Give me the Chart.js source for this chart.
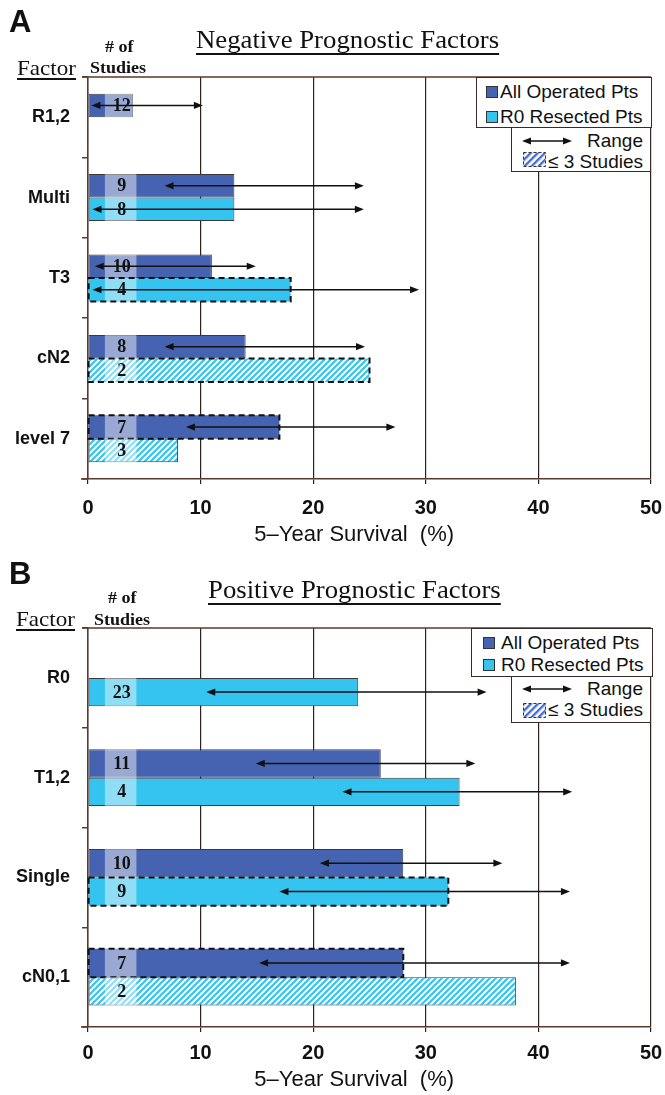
<!DOCTYPE html>
<html>
<head>
<meta charset="utf-8">
<script src="https://cdn.jsdelivr.net/npm/chart.js@4.4.1/dist/chart.umd.min.js"></script>
<style>
html,body{margin:0;padding:0;background:#fff;}
body{width:665px;height:1095px;position:relative;overflow:hidden;font-family:"Liberation Sans",Arial,sans-serif;color:#111;}
canvas{position:absolute;left:0;}
.t{position:absolute;white-space:nowrap;line-height:1;transform-origin:0 0;z-index:3;}
.serif{font-family:"Liberation Serif","Times New Roman",serif;}
.panelLetter{font-family:"Liberation Sans",Arial,sans-serif;font-weight:bold;font-size:31px;}
.title{font-size:25px;text-decoration:underline;text-decoration-thickness:1.5px;text-underline-offset:5px;transform:scaleX(1.07);}
.factor{font-size:22px;text-decoration:underline;text-decoration-thickness:1.5px;text-underline-offset:3px;transform:scaleX(1.05);}
.studies{font-size:17px;font-weight:bold;transform:scaleX(1.06);}
.lg{position:absolute;background:#fff;border:1.5px solid #3a2a25;box-sizing:border-box;z-index:3;}
.row{position:absolute;height:20px;line-height:20px;font-size:19px;white-space:nowrap;}
.sw{position:absolute;width:12px;height:12px;box-sizing:border-box;border:1px solid #333;}
</style>
</head>
<body>
<canvas id="chartA" width="665" height="550" style="top:0"></canvas>
<canvas id="chartB" width="665" height="545" style="top:550px"></canvas>

<!-- Panel A headers -->
<div class="t panelLetter" style="left:9px;top:6px">A</div>
<div class="t serif title" style="left:196px;top:27px">Negative Prognostic Factors</div>
<div class="t serif factor" style="left:17px;top:57px">Factor</div>
<div class="t serif studies" style="left:105px;top:38px">#&nbsp;of</div>
<div class="t serif studies" style="left:90px;top:59px">Studies</div>

<!-- Panel A legend -->
<div class="lg" style="left:476px;top:77px;width:176px;height:51px">
  <div class="sw" style="left:9px;top:8px;background:#4563b1"></div>
  <div class="row" style="left:23px;top:4px">All Operated Pts</div>
  <div class="sw" style="left:9px;top:33px;background:#35c4ef"></div>
  <div class="row" style="left:23px;top:29px">R0 Resected Pts</div>
</div>
<div class="lg" style="left:511px;top:127px;width:140px;height:45px">
  <svg style="position:absolute;left:10px;top:7px" width="50" height="12"><line x1="4" y1="6" x2="46" y2="6" stroke="#111" stroke-width="1.5"/><polygon points="0,6 9,2.5 9,9.5" fill="#111"/><polygon points="50,6 41,2.5 41,9.5" fill="#111"/></svg>
  <div class="row" style="right:7px;top:3px">Range</div>
  <svg style="position:absolute;left:11px;top:24px" width="23" height="15"><defs><pattern id="hpA" patternUnits="userSpaceOnUse" width="5" height="5" patternTransform="rotate(45)"><rect width="5" height="5" fill="#fff"/><rect width="2.4" height="5" fill="#4a6fd0"/></pattern></defs><rect x="0.5" y="0.5" width="22" height="14" fill="url(#hpA)" stroke="#333" stroke-width="1" stroke-dasharray="3,2"/></svg>
  <div class="row" style="right:7px;top:24px">≤ 3 Studies</div>
</div>

<!-- Panel B headers -->
<div class="t panelLetter" style="left:9px;top:558px">B</div>
<div class="t serif title" style="left:208px;top:577px">Positive Prognostic Factors</div>
<div class="t serif factor" style="left:16px;top:608px">Factor</div>
<div class="t serif studies" style="left:108px;top:589px">#&nbsp;of</div>
<div class="t serif studies" style="left:94px;top:611px">Studies</div>

<!-- Panel B legend -->
<div class="lg" style="left:471px;top:628px;width:182px;height:49px">
  <div class="sw" style="left:11px;top:8px;background:#4563b1"></div>
  <div class="row" style="left:29px;top:4px">All Operated Pts</div>
  <div class="sw" style="left:11px;top:30px;background:#35c4ef"></div>
  <div class="row" style="left:29px;top:26px">R0 Resected Pts</div>
</div>
<div class="lg" style="left:511px;top:676px;width:140px;height:47px">
  <svg style="position:absolute;left:10px;top:6px" width="50" height="12"><line x1="4" y1="6" x2="46" y2="6" stroke="#111" stroke-width="1.5"/><polygon points="0,6 9,2.5 9,9.5" fill="#111"/><polygon points="50,6 41,2.5 41,9.5" fill="#111"/></svg>
  <div class="row" style="right:7px;top:2px">Range</div>
  <svg style="position:absolute;left:11px;top:26px" width="23" height="15"><defs><pattern id="hpB" patternUnits="userSpaceOnUse" width="5" height="5" patternTransform="rotate(45)"><rect width="5" height="5" fill="#fff"/><rect width="2.4" height="5" fill="#4a6fd0"/></pattern></defs><rect x="0.5" y="0.5" width="22" height="14" fill="url(#hpB)" stroke="#333" stroke-width="1" stroke-dasharray="3,2"/></svg>
  <div class="row" style="right:7px;top:23px">≤ 3 Studies</div>
</div>

<script>
// ---------- DATA ----------
const xTicks = [0, 10, 20, 30, 40, 50];

const categoriesA = ['R1,2', 'Multi', 'T3', 'cN2', 'level 7'];
const allOperatedA = [4, 13, 11, 14, 17];
const r0ResectedA = [null, 13, 18, 25, 8];
const studiesAllA = [12, 9, 10, 8, 7];
const studiesR0A = [null, 8, 4, 2, 3];
const rangeAllA = [[0.3, 10.2], [6.8, 24.5], [0.6, 14.9], [6.8, 24.6], [8.7, 27.3]];
const rangeR0A = [null, [0.4, 24.5], [0.4, 29.4], null, null];

const categoriesB = ['R0', 'T1,2', 'Single', 'cN0,1'];
const allOperatedB = [null, 26, 28, 28];
const r0ResectedB = [24, 33, 32, 38];
const studiesAllB = [null, 11, 10, 7];
const studiesR0B = [23, 4, 9, 2];
const rangeAllB = [null, [14.9, 34.4], [20.6, 36.8], [15.2, 42.8]];
const rangeR0B = [[10.5, 35.4], [22.6, 43.0], [17.0, 42.8], null];

// outline style flags (dashed outline in the original figure)
const dashedAllA = [false, false, false, false, true];
const dashedR0A = [false, false, true, true, false];
const dashedAllB = [false, false, false, true];
const dashedR0B = [false, false, true, false];

// ---------- STYLE ----------
const COL_ALL = '#4563b1';
const COL_R0 = '#35c4ef';
const GRID = '#2e211c';
const AXIS = '#5a3a30';

function makeHatch(color) {
  const s = 6;
  const c = document.createElement('canvas');
  c.width = s; c.height = s;
  const g = c.getContext('2d');
  g.fillStyle = '#fff'; g.fillRect(0, 0, s, s);
  g.strokeStyle = color; g.lineWidth = 2.2;
  g.beginPath();
  g.moveTo(-1, s + 1); g.lineTo(s + 1, -1);
  g.moveTo(-1, 1); g.lineTo(1, -1);
  g.moveTo(s - 1, s + 1); g.lineTo(s + 1, s - 1);
  g.stroke();
  return g.createPattern(c, 'repeat');
}
const hatch = makeHatch(COL_R0);

function drawArrow(ctx, x1, x2, y) {
  const L = 9, W = 3.6;
  ctx.save();
  ctx.strokeStyle = '#111'; ctx.fillStyle = '#111'; ctx.lineWidth = 1.5;
  ctx.beginPath(); ctx.moveTo(x1 + 4, y); ctx.lineTo(x2 - 4, y); ctx.stroke();
  ctx.beginPath(); ctx.moveTo(x1, y); ctx.lineTo(x1 + L, y - W); ctx.lineTo(x1 + L, y + W); ctx.closePath(); ctx.fill();
  ctx.beginPath(); ctx.moveTo(x2, y); ctx.lineTo(x2 - L, y - W); ctx.lineTo(x2 - L, y + W); ctx.closePath(); ctx.fill();
  ctx.restore();
}

const annot = {
  id: 'annot',
  beforeDatasetsDraw(chart) {
    const { ctx, chartArea: a } = chart;
    ctx.save();
    ctx.strokeStyle = AXIS; ctx.lineWidth = 1.5;
    ctx.beginPath();
    ctx.moveTo(a.left - 6, a.top); ctx.lineTo(a.right, a.top);
    ctx.moveTo(a.left - 7, a.bottom); ctx.lineTo(a.left, a.bottom);
    ctx.stroke();
    ctx.restore();
  },
  afterDatasetsDraw(chart) {
    const { ctx } = chart;
    const xs = chart.scales.x;
    chart.data.datasets.forEach((ds, d) => {
      const meta = chart.getDatasetMeta(d);
      meta.data.forEach((bar, i) => {
        if (ds.data[i] == null) return;
        const p = bar.getProps(['x', 'y', 'base', 'height'], true);
        const top = p.y - p.height / 2;
        const bx1 = xs.getPixelForValue(1.5);
        const bx2 = Math.min(xs.getPixelForValue(4.3), p.x);
        ctx.save();
        ctx.fillStyle = 'rgba(255,255,255,0.45)';
        ctx.fillRect(bx1, top, bx2 - bx1, p.height);
        if (ds._dashed[i]) {
          ctx.setLineDash([6, 4]);
          ctx.lineWidth = 2;
          ctx.strokeStyle = '#111';
          ctx.strokeRect(p.base, top, p.x - p.base, p.height);
          ctx.setLineDash([]);
        }
        ctx.fillStyle = '#111';
        ctx.font = 'bold 18px "Liberation Serif"';
        ctx.textAlign = 'center';
        ctx.textBaseline = 'middle';
        ctx.fillText(String(ds._studies[i]), xs.getPixelForValue(3.0), p.y + 1);
        ctx.restore();
        const r = ds._ranges[i];
        if (r) drawArrow(ctx, xs.getPixelForValue(r[0]), xs.getPixelForValue(r[1]), p.y);
      });
    });
  }
};

function makeDataset(label, data, studies, ranges, dashed, color) {
  return {
    label, data,
    backgroundColor: data.map((v, i) => (studies[i] != null && studies[i] <= 3) ? hatch : color),
    borderColor: '#3a3a3a',
    borderWidth: dashed.map(f => f ? 0 : 1),
    borderSkipped: false,
    _studies: studies, _ranges: ranges, _dashed: dashed
  };
}

function makePanel(id, cfg) {
  return new Chart(document.getElementById(id), {
    type: 'bar',
    data: {
      labels: cfg.categories,
      datasets: [
        makeDataset('All Operated Pts', cfg.all, cfg.studiesAll, cfg.rangeAll, cfg.dashedAll, COL_ALL),
        makeDataset('R0 Resected Pts', cfg.r0, cfg.studiesR0, cfg.rangeR0, cfg.dashedR0, COL_R0)
      ]
    },
    options: {
      indexAxis: 'y',
      responsive: false,
      animation: false,
      datasets: { bar: { categoryPercentage: cfg.catPct, barPercentage: 1 } },
      layout: { padding: { top: cfg.padTop, right: 14, left: 0, bottom: 0 } },
      plugins: { legend: { display: false }, tooltip: { enabled: false } },
      scales: {
        x: {
          type: 'linear', min: 0, max: 50,
          afterBuildTicks: s => { s.ticks = xTicks.map(v => ({ value: v })); },
          afterFit: s => { s.height = cfg.xAxisH; s.paddingLeft = 0; s.paddingRight = 0; },
          ticks: { color: '#111', padding: cfg.tickPad, font: { family: 'Liberation Sans', size: 20, weight: 'bold' } },
          grid: { color: GRID, lineWidth: 1.2, tickLength: 5 },
          border: { color: AXIS, width: 1.5 },
          title: { display: true, text: '5–Year Survival  (%)\u00a0\u00a0\u00a0\u00a0\u00a0', color: '#111', font: { family: 'Liberation Sans', size: 22 }, padding: { top: 0, bottom: cfg.titlePad } }
        },
        y: {
          afterFit: s => { s.width = 88; s.paddingTop = 0; s.paddingBottom = 0; },
          ticks: { color: '#111', padding: 12, font: { family: 'Liberation Sans', size: 18, weight: 'bold' } },
          grid: { drawOnChartArea: false, tickLength: 6, color: AXIS, lineWidth: 1.5 },
          border: { color: AXIS, width: 1.5 }
        }
      }
    },
    plugins: [annot]
  });
}

makePanel('chartA', {
  categories: categoriesA, all: allOperatedA, r0: r0ResectedA,
  studiesAll: studiesAllA, studiesR0: studiesR0A,
  rangeAll: rangeAllA, rangeR0: rangeR0A,
  dashedAll: dashedAllA, dashedR0: dashedR0A,
  catPct: 0.585, padTop: 77, xAxisH: 71, tickPad: 12, titlePad: 2
});
makePanel('chartB', {
  categories: categoriesB, all: allOperatedB, r0: r0ResectedB,
  studiesAll: studiesAllB, studiesR0: studiesR0B,
  rangeAll: rangeAllB, rangeR0: rangeR0B,
  dashedAll: dashedAllB, dashedR0: dashedR0B,
  catPct: 0.57, padTop: 78, xAxisH: 68, tickPad: 9, titlePad: 2
});
</script>
</body>
</html>
